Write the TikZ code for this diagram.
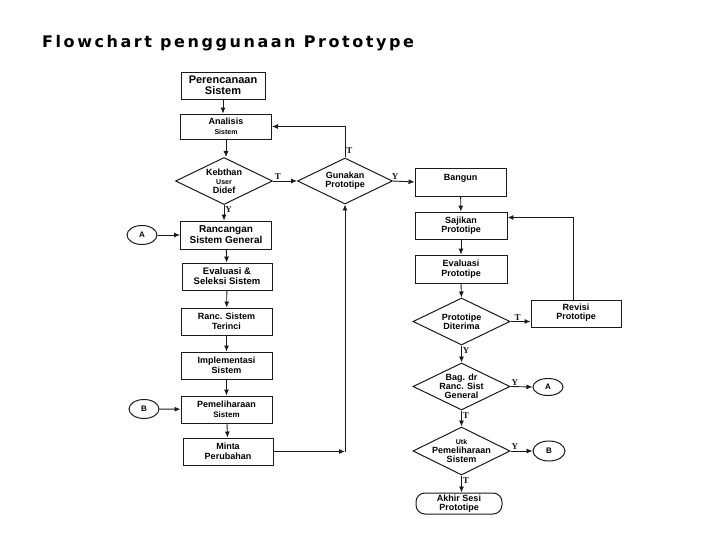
\documentclass[tikz,border=0pt]{standalone}
\usepackage{fontspec}
\setmainfont{Liberation Sans}
\newfontfamily\titlefont[LetterSpace=16]{DejaVu Sans}
\newfontfamily\markfont{Liberation Serif}
\usepackage{tikz}
\usetikzlibrary{arrows.meta}
\usetikzlibrary{shapes.geometric}
\definecolor{ScanBlack}{HTML}{1A1A1A}

\tikzset{
    box/.style={draw=ScanBlack, line width=0.9, align=center, inner sep=1pt,
        minimum width=91pt, minimum height=27pt,
        font=\bfseries\fontsize{9}{9.5}\selectfont},
    decision/.style={draw=ScanBlack, line width=1.0, diamond,
        inner sep=0pt, minimum width=97pt, minimum height=47pt},
    decisiontext/.style={align=center, inner sep=0pt,
        font=\bfseries\fontsize{9}{9}\selectfont},
    connector/.style={draw=ScanBlack, line width=1.0, ellipse,
        minimum width=30pt, minimum height=19pt, inner sep=0pt,
        font=\bfseries\fontsize{8}{8}\selectfont},
    terminal/.style={draw=ScanBlack, line width=1.0, rounded corners=9pt,
        align=center, inner sep=1pt, minimum width=86pt, minimum height=21pt,
        font=\bfseries\fontsize{9}{9}\selectfont},
    flow/.style={-{Latex[length=6pt, width=5pt]}, line width=0.9, ScanBlack},
    branch/.style={font=\markfont\bfseries\fontsize{9}{9}\selectfont, inner sep=1pt}
}

\begin{document}
\begin{tikzpicture}[x=1pt, y=-1pt]

\useasboundingbox (0,0) rectangle (720,540);

\node[anchor=base west, inner sep=0pt, font=\titlefont\bfseries\fontsize{16}{18}\selectfont]
    (title) at (42,48) {Flowchart penggunaan Prototype};

% left column
\node[box, minimum width=84pt, font=\bfseries\fontsize{11}{11}\selectfont] (plan) at (223,85.5) {Perencanaan\\Sistem};
\node[box, minimum height=25pt] (analisis) at (226,126.5) {Analisis\\{\fontsize{7}{7}\selectfont Sistem}};
\node[decision, label={[decisiontext]center:{Kebthan\\{\fontsize{7}{8}\selectfont User}\\Didef}}] (kebutuhan) at (224,181) {};
\node[box, minimum height=28pt, font=\bfseries\fontsize{10}{11}\selectfont] (rancangan) at (226,235) {Rancangan\\Sistem General};
\node[box, minimum width=90pt, font=\bfseries\fontsize{9.5}{10}\selectfont] (seleksi) at (227,276.5) {Evaluasi \&\\Seleksi Sistem};
\node[box] (rinci) at (226.5,321.5) {Ranc. Sistem\\Terinci};
\node[box] (implementasi) at (226.5,365.5) {Implementasi\\Sistem};
\node[box] (pelihara) at (226.5,409.5) {Pemeliharaan\\{\fontsize{8}{8}\selectfont Sistem}};
\node[box, minimum width=90pt] (minta) at (228,451.5) {Minta\\Perubahan};

\node[connector] (inA) at (142,235) {A};
\node[connector] (inB) at (144,409) {B};

% middle
\node[decision, minimum width=95pt, minimum height=46pt,
    label={[decisiontext]center:{Gunakan\\Prototipe}}] (gunakan) at (345,181) {};

% right column
\node[box, minimum height=28pt] (bangun) at (460.5,182) {Bangun\\\mbox{}};
\node[box, minimum width=92pt] (sajikan) at (461,225.5) {Sajikan\\Prototipe};
\node[box, minimum width=92pt, minimum height=28pt] (evalproto) at (461,269) {Evaluasi\\Prototipe};
\node[decision, label={[decisiontext]center:{Prototipe\\Diterima}}] (diterima) at (461.5,321.5) {};
\node[box, minimum width=90pt] (revisi) at (576,313.5) {Revisi\\Prototipe\\[-6pt]\mbox{}};
\node[decision, label={[decisiontext]center:{Bag. dr\\Ranc. Sist\\General}}] (bagian) at (461.5,386.5) {};
\node[decision, minimum height=48pt,
    label={[decisiontext]center:{{\fontsize{7}{8}\selectfont Utk}\\Pemeliharaan\\Sistem}}] (utk) at (461.5,451) {};
\node[terminal] (akhir) at (459,503.5) {Akhir Sesi\\Prototipe};

\node[connector, minimum height=17pt] (outA) at (548,387) {A};
\node[connector, minimum width=32pt, minimum height=20pt] (outB) at (549,451) {B};

% connectors left
\draw[flow] (plan.south) -- (plan.south |- analisis.north);
\draw[flow] (analisis.south) -- (analisis.south |- kebutuhan.north);
\draw[flow] (kebutuhan.east) -- (gunakan.west) node[branch, pos=0.2, above] {T};
\draw[flow] (kebutuhan.south) -- (kebutuhan.south |- rancangan.north) node[branch, pos=0.3, right] {Y};
\draw[flow] (inA) -- (rancangan);
\draw[flow] (rancangan) -- (seleksi);
\draw[flow] (seleksi) -- (rinci);
\draw[flow] (rinci) -- (implementasi);
\draw[flow] (implementasi) -- (pelihara);
\draw[flow] (pelihara) -- (minta);
\draw[flow] (inB) -- (pelihara);

\coordinate (turn) at (minta.east -| gunakan.south);
\draw[flow] (minta.east) -- (turn);
\draw[flow] (turn) -- (gunakan.south);
\draw[flow] (gunakan.north) |- (analisis.east) node[branch, pos=0.12, right] {T};
\draw[flow] (gunakan.east) -- (bangun.west) node[branch, pos=0.1, above] {Y};

% connectors right
\draw[flow] (bangun) -- (sajikan);
\draw[flow] (sajikan) -- (evalproto);
\draw[flow] (evalproto.south) -- (diterima.north);
\draw[flow] (diterima.east) -- (diterima.east -| revisi.west) node[branch, pos=0.35, above] {T};
\draw[flow] ([xshift=-3pt]revisi.north) |- ([yshift=8pt]sajikan.east);
\draw[flow] (diterima.south) -- (bagian.north) node[branch, pos=0.3, right] {Y};
\draw[flow] (bagian.east) -- (outA.west) node[branch, pos=0.2, above] {Y};
\draw[flow] (bagian.south) -- (utk.north) node[branch, pos=0.3, right] {T};
\draw[flow] (utk.east) -- (outB.west) node[branch, pos=0.2, above] {Y};
\draw[flow] (utk.south) -- (utk.south |- akhir.north) node[branch, pos=0.3, right] {T};

\end{tikzpicture}
\end{document}
